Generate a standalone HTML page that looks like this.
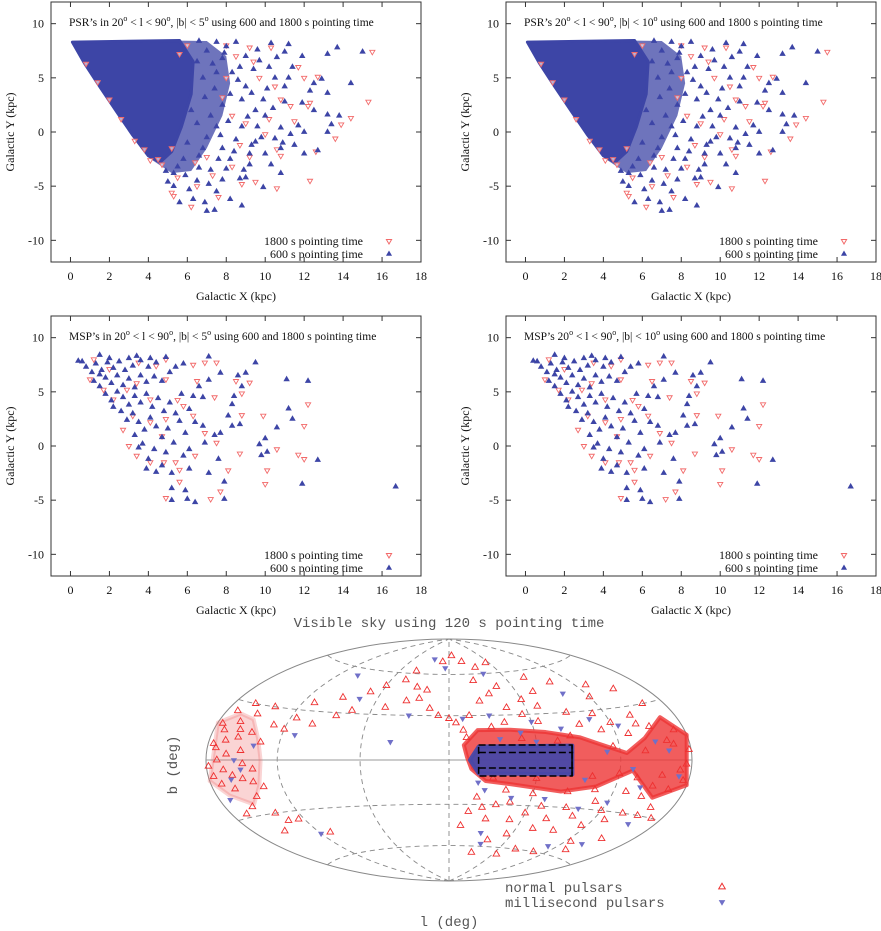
<!DOCTYPE html>
<html><head><meta charset="utf-8"><style>
html,body{margin:0;padding:0;background:#fff}
svg{display:block}
.ser{font-family:"Liberation Serif",serif;fill:#111}
.mono{font-family:"Liberation Mono",monospace;fill:#555}
</style></head><body>
<svg id="fig" width="881" height="931" viewBox="0 0 881 931" xmlns="http://www.w3.org/2000/svg"></svg>
<script>
// ---------- Galactic XY panel data (kpc) ----------
const xTicks=[0,2,4,6,8,10,12,14,16,18];
const yTicks=[-10,-5,0,5,10];
const psrCore=[[0.1,8.3],[5.6,8.45],[6.3,6.5],[6.2,3.5],[5.7,0.5],[5.2,-1.8],[4.6,-2.8],[4.0,-2.2],[3.2,-0.3],[2.4,1.8],[1.5,4.2],[0.7,6.4]];
const psrHalo=[[5.0,8.45],[7.0,8.4],[8.0,7.0],[8.2,4.5],[7.8,1.5],[7.0,-1.5],[6.2,-3.6],[5.2,-3.8],[4.2,-2.6],[5.5,0]];
const psr600=[[8.5,8.3],[10.3,8.2],[11.2,8.1],[13.7,7.8],[15.0,7.4],[13.2,7.2],[11.9,7.0],[11.0,7.4],[10.6,6.9],[9.6,7.6],[9.0,7.0],[8.0,7.9],[7.8,6.8],[8.7,6.0],[9.4,5.8],[10.2,6.0],[11.4,6.0],[11.2,5.0],[11.0,4.2],[10.5,5.0],[12.3,3.8],[12.5,4.5],[12.9,4.9],[14.4,4.5],[13.2,3.6],[11.9,2.7],[12.5,2.0],[13.2,1.6],[13.8,1.5],[13.4,0.7],[13.2,0],[11.7,0.6],[12.0,0.0],[11.3,-0.2],[10.9,-1.0],[10.8,-1.5],[12.0,-2.0],[12.7,-1.7],[11.5,-1.2],[9.5,2.0],[10.0,1.5],[9.8,-0.5],[9.3,-1.2],[8.8,0.5],[8.5,-0.7],[7.8,-1.5],[8.2,-2.5],[9.2,-3.0],[10.3,-3.0],[10.0,-2.0],[9.0,-4.2],[8.7,-4.3],[9.9,-5.1],[10.8,-3.8],[8.8,-6.8],[8.2,-6.2],[7.0,-7.3],[7.4,-7.2],[6.9,-6.5],[6.3,-6.2],[5.6,-6.5],[5.3,-5.0],[5.0,-4.6],[5.9,-4.0],[6.6,-3.3],[7.2,-3.5],[7.6,-2.5],[6.8,-1.5],[7.0,-0.5],[7.5,0.5],[7.2,1.5],[7.8,2.5],[8.2,3.5],[8.8,3.0],[9.0,4.2],[7.4,4.0],[6.8,5.0],[7.5,5.5],[6.5,6.5],[7.0,7.5],[6.6,8.4],[7.5,8.3],[6.2,2.0],[6.5,0.8],[6.0,-1.0],[5.8,-2.5],[6.5,-4.5],[7.8,-4.4],[5.5,-3.2],[4.9,-3.6],[10.1,4.0],[9.9,3.0],[10.4,2.2],[11.0,2.8],[9.2,-2.0],[8.0,-3.4],[7.5,-5.5],[6.9,3.2],[7.3,6.3],[8.1,1.0],[6.6,-2.2],[7.9,7.3],[8.6,4.8],[5.3,-3.8],[6.1,-5.3],[7.1,-4.8],[9.6,0.5],[8.4,-1.8],[7.7,-0.3],[9.3,3.6],[9.7,6.6],[10.8,0.4],[8.9,-3.5],[9.5,-0.9],[10.5,-0.6],[8.3,5.5],[9.1,1.4]];
const psr1800=[[15.5,7.4],[15.3,2.8],[14.4,1.3],[13.9,0.7],[13.6,-0.6],[12.3,-4.5],[12.3,2.7],[12.0,5.0],[11.7,6.0],[10.3,7.8],[8.0,8.0],[9.4,6.5],[9.7,5.0],[10.5,4.2],[10.8,3.0],[10.2,1.2],[10.0,-0.2],[10.6,-1.6],[10.6,-5.2],[9.5,-4.6],[8.8,-4.8],[7.6,-6.0],[6.2,-6.9],[5.3,-5.9],[5.2,-5.6],[5.5,-4.2],[6.5,-5.0],[7.3,-4.0],[8.3,-3.2],[9.2,-2.3],[8.7,-1.2],[9.0,0.8],[8.3,1.5],[8.0,5.0],[8.5,7.0],[9.2,7.8],[11.3,2.4],[11.5,1.0],[12.7,5.1],[12.2,2.4],[12.6,-1.8],[10.8,-2.2],[6.4,-2.8],[4.7,-3.0],[4.5,-2.5],[7.8,3.2],[7.0,-2.3],[5.2,-1.5],[5.6,7.2],[6.0,8.0],[3.3,-0.8],[2.6,1.2],[4.1,-2.6],[1.4,4.6],[0.8,6.3],[3.8,-1.6],[2.0,3.0]];
const msp600=[[0.4,7.85],[1.5,8.4],[3.0,8.1],[4.9,8.2],[7.1,8.25],[9.5,7.7],[11.1,6.15],[12.2,6.0],[11.2,3.45],[11.4,2.5],[10.6,1.7],[10.0,0.7],[9.7,0.15],[10.1,-0.55],[9.8,-0.86],[12.7,-1.3],[11.9,-3.5],[16.7,-3.75],[7.9,-3.3],[7.9,-4.9],[6.4,-5.2],[6.0,-4.9],[5.2,-5.0],[5.2,-3.9],[5.9,-4.1],[6.1,-2.1],[7.1,-2.5],[4.4,-2.4],[3.9,-2.1],[7.6,-1.2],[8.3,1.85],[8.7,2.0],[8.1,2.8],[8.3,3.85],[8.4,4.6],[8.8,5.5],[8.6,6.5],[9.0,6.75],[7.7,6.75],[7.1,6.1],[6.6,5.5],[6.3,4.6],[6.8,4.5],[6.1,3.4],[6.8,1.85],[6.4,2.2],[7.4,1.0],[7.7,1.2],[6.9,0.3],[6.1,-0.3],[5.8,-0.9],[4.9,-0.6],[4.7,-1.8],[5.2,-2.5],[4.0,-1.2],[3.5,-0.15],[0.8,7.3],[1.1,6.8],[1.3,7.6],[1.6,7.0],[1.9,7.7],[2.2,7.2],[2.5,7.8],[2.8,7.0],[3.2,7.4],[3.6,7.9],[4.0,7.3],[4.4,7.7],[1.2,6.0],[1.5,5.5],[1.8,6.3],[2.1,5.8],[2.4,6.5],[2.7,5.6],[3.0,6.2],[3.3,5.4],[3.6,6.5],[3.9,5.9],[4.3,6.4],[4.7,6.0],[5.1,6.8],[5.4,7.3],[5.8,7.6],[1.8,4.8],[2.1,4.2],[2.4,5.0],[2.7,4.5],[3.0,3.8],[3.3,4.6],[3.6,4.0],[3.9,4.8],[4.2,3.6],[4.5,4.4],[4.8,3.2],[5.1,4.0],[5.4,3.0],[5.7,4.8],[2.6,3.2],[2.9,2.4],[3.2,3.0],[3.5,2.2],[3.8,1.5],[4.1,2.6],[4.4,1.8],[4.7,0.8],[5.0,1.6],[5.3,0.3],[5.6,2.3],[5.9,1.2],[3.3,1.0],[3.7,0.2],[4.3,-0.3],[2.2,3.6],[1.5,6.6],[0.6,7.8],[2.0,8.1],[3.4,8.3],[4.1,8.1]];
const msp1800=[[4.9,-4.8],[5.6,-3.3],[7.2,-4.9],[7.7,-4.2],[8.1,-2.25],[8.7,-0.7],[10.0,-3.5],[10.1,-2.25],[10.6,-0.3],[11.7,-0.8],[12.0,-1.2],[12.0,1.85],[12.2,3.85],[9.9,2.8],[8.8,2.85],[9.2,5.85],[8.8,4.85],[7.4,4.5],[6.5,6.0],[6.9,7.7],[7.5,7.7],[4.4,7.4],[4.9,6.15],[5.5,4.25],[4.1,4.3],[3.2,2.8],[2.7,1.5],[3.0,0.0],[3.4,-0.9],[4.1,-1.5],[4.8,-1.5],[5.4,-1.5],[5.6,-2.2],[6.4,-0.9],[7.5,0.3],[6.9,1.2],[6.3,2.8],[5.8,3.7],[2.2,4.3],[1.7,5.2],[1.0,6.15],[2.0,7.1],[3.5,7.7],[1.2,8.0],[4.9,8.0],[6.3,7.5],[8.5,6.0],[2.9,5.2],[3.4,5.8],[4.1,2.2],[4.9,2.5],[4.7,0.9]];

// ---------- Sky map data (galactic l, b in degrees) ----------
const lbTicksMeridian=[-120,-60,0,60,120];
const lbTicksParallel=[-60,-30,30,60];
const denseRedLB=[[10,10],[20,20],[43,20],[68,18],[92,14],[104,10],[125,4],[142,12],[165,22],[180,12],[180,-12],[155,-20],[130,-6],[105,-16],[80,-20],[43,-16],[25,-14],[15,-6],[12,2]];
const denseBlueLB=[[20,9],[85,9],[85,-9],[20,-9],[14,0]];
const leftRedLB=[[-180,18],[-165,24],[-150,22],[-138,12],[-133,0],[-138,-14],[-152,-24],[-168,-18],[-180,-10]];
const normalLB=[[-40,62],[-10,70],[5,75],[20,70],[35,65],[55,68],[80,55],[100,50],[130,45],[160,30],[-60,50],[-70,45],[-90,40],[-110,35],[-140,30],[-150,25],[-160,20],[-170,15],[-175,8],[-165,10],[-155,12],[-145,15],[-130,20],[-120,18],[-100,22],[-85,28],[-75,32],[-45,55],[-30,50],[-25,42],[-15,35],[-8,30],[0,28],[5,25],[10,20],[12,15],[15,30],[25,40],[35,45],[45,35],[55,30],[60,40],[70,35],[90,30],[110,28],[140,25],[150,40],[120,38],[75,45],[45,50],[25,55],[-20,48],[-35,40],[-50,35],[-115,25],[-135,10],[-150,5],[-170,0],[-178,-3],[-165,-5],[-158,-8],[-150,-10],[-140,-5],[-135,-15],[-145,-20],[-160,-15],[-170,-12],[-155,-25],[-140,-30],[-135,-35],[-125,-35],[-150,-40],[-110,-45],[20,-25],[25,-32],[30,-40],[35,-30],[45,-28],[50,-40],[55,-50],[60,-35],[70,-30],[75,-45],[80,-38],[90,-30],[95,-45],[100,-35],[110,-25],[115,-40],[120,-30],[125,-50],[130,-35],[140,-30],[145,-20],[155,-30],[160,-25],[165,-15],[170,-30],[175,-10],[150,-45],[135,-55],[105,-60],[80,-60],[65,-65],[40,-55],[30,-65],[10,-45],[15,-35],[40,-20],[60,-22],[85,-20],[105,-18],[130,-18],[150,-14],[170,-5],[178,5],[170,15],[160,10],[150,18],[140,20],[130,15],[120,22],[110,18],[95,22],[85,15],[65,25],[40,25],[30,22],[-170,25],[-160,30],[-175,-8],[-162,3],[-148,-2],[-172,6],[-156,16],[-142,-12],[-166,-28],[-175,18],[60,-12],[75,12],[100,-10],[115,8],[135,-10],[155,-8],[165,8],[175,-2],[50,14],[30,-12],[140,5],[120,-8]];
const mspLB=[[-25,72],[-5,65],[40,60],[100,42],[-100,55],[-75,40],[-150,-5],[-160,-10],[-140,8],[-120,-45],[-110,15],[-30,30],[10,28],[30,30],[50,18],[60,25],[80,20],[105,25],[125,20],[150,10],[160,5],[170,-8],[140,-15],[120,-25],[100,-30],[70,-25],[45,-25],[25,-20],[30,-50],[35,-58],[110,-55],[140,-50],[155,-35],[20,-15],[-40,12],[-170,-20],[-155,0],[130,-5],[110,5],[95,-12],[60,12],[35,14]];

const NS='http://www.w3.org/2000/svg';
const svg=document.getElementById('fig');
function mk(tag,attrs,parent){const e=document.createElementNS(NS,tag);for(const k in attrs)e.setAttribute(k,attrs[k]);(parent||svg).appendChild(e);return e;}
function tri(cx,cy,s,up){const h=up?-1:1;return `M${cx},${cy+h*s} L${cx+0.87*s},${cy-h*0.5*s} L${cx-0.87*s},${cy-h*0.5*s} Z`;}

function xyPanel(x0,y0,name,titleA,d600,d1800,core,halo){
  const W=370,H=260;
  const sx=x=>x0+(x+1)/19*W, sy=y=>y0+(12-y)/24*H;
  const g=mk('g',{});
  
  
  if(halo){
    const p=mk('path',{d:'M'+halo.map(c=>sx(c[0])+','+sy(c[1])).join(' L')+' Z',fill:'#3d45a6','fill-opacity':0.75,stroke:'none'},g);
    
    
  }
  if(core){
    const p=mk('path',{d:'M'+core.map(c=>sx(c[0])+','+sy(c[1])).join(' L')+' Z',fill:'#3d45a6',stroke:'#3d45a6','stroke-width':3,'stroke-linejoin':'round'},g);
    
    
  }
  d1800.forEach(d=>{
    const p=mk('path',{d:tri(sx(d[0]),sy(d[1]),3,false),fill:'#fff','fill-opacity':0.6,stroke:'#f26a6a','stroke-width':0.9},g);
    
    
  });
  d600.forEach(d=>{
    const p=mk('path',{d:tri(sx(d[0]),sy(d[1]),2.5,true),fill:'#3d45a6',stroke:'#3d45a6','stroke-width':1.2},g);
    
    
  });
  const fr=mk('rect',{x:x0,y:y0,width:W,height:H,fill:'none',stroke:'#333','stroke-width':1},g);
  
  
  xTicks.forEach(t=>{
    const x=sx(t);
    mk('line',{x1:x,x2:x,y1:y0+H,y2:y0+H-5,stroke:'#333'},g);
    mk('line',{x1:x,x2:x,y1:y0,y2:y0+5,stroke:'#333'},g);
    const tx=mk('text',{x:x,y:y0+H+18,'text-anchor':'middle','font-size':12,class:'ser'},g);
    tx.textContent=t;
    
    
  });
  yTicks.forEach(t=>{
    const y=sy(t);
    mk('line',{x1:x0,x2:x0+5,y1:y,y2:y,stroke:'#333'},g);
    mk('line',{x1:x0+W,x2:x0+W-5,y1:y,y2:y,stroke:'#333'},g);
    const tx=mk('text',{x:x0-7,y:y+4,'text-anchor':'end','font-size':12,class:'ser'},g);
    tx.textContent=t;
    
    
  });
  const xl=mk('text',{x:x0+185,y:y0+H+38,'text-anchor':'middle','font-size':12,class:'ser'},g);
  xl.textContent='Galactic X (kpc)';
  
  
  const yl=mk('text',{x:0,y:0,'text-anchor':'middle','font-size':12,class:'ser',transform:`translate(${x0-37},${y0+130}) rotate(-90)`},g);
  yl.textContent='Galactic Y (kpc)';
  
  
  const tt=mk('text',{x:x0+18,y:y0+24,'font-size':11.5,class:'ser'},g);
  
  
  tt.innerHTML=titleA;
  const l1=mk('text',{x:x0+312,y:y0+243,'text-anchor':'end','font-size':12,class:'ser'},g);
  l1.textContent='1800 s pointing time';
  
  
  mk('path',{d:tri(x0+338,y0+239,3,false),fill:'none',stroke:'#f26a6a'},g);
  const l2=mk('text',{x:x0+312,y:y0+256,'text-anchor':'end','font-size':12,class:'ser'},g);
  l2.textContent='600 s pointing time';
  
  
  mk('path',{d:tri(x0+338,y0+252,2.5,true),fill:'#3d45a6',stroke:'#3d45a6'},g);
}
const sup='<tspan dy="-5" font-size="8">o</tspan><tspan dy="5">';
function title(pre,bmax){return `${pre} 20${sup} &lt; l &lt; 90</tspan>${sup}, |b| &lt; ${bmax}</tspan>${sup} using 600 and 1800 s pointing time</tspan>`;}
xyPanel(51,2,'psr-panel-b5',title("PSR\u2019s in",5),psr600,psr1800,psrCore,psrHalo);
xyPanel(506,2,'psr-panel-b10',title("PSR\u2019s",10),psr600,psr1800,psrCore,psrHalo);
xyPanel(51,316,'msp-panel-b5',title("MSP\u2019s in",5),msp600,msp1800,null,null);
xyPanel(506,316,'msp-panel-b10',title("MSP\u2019s",10),msp600,msp1800,null,null);

// ---------- Hammer-Aitoff sky map ----------
const CX=449,CY=760,RX=243,RY=121;
function proj(l,b){
  const lam=l*Math.PI/180, phi=b*Math.PI/180;
  const d=Math.sqrt(1+Math.cos(phi)*Math.cos(lam/2));
  const x=Math.cos(phi)*Math.sin(lam/2)/d, y=Math.sin(phi)/d;
  return [CX+RX*x, CY-RY*y];
}
const sky=mk('g',{});


const st=mk('text',{x:CX,y:627,'text-anchor':'middle','font-size':14,class:'mono'},sky);
st.textContent='Visible sky using 120 s pointing time';


const el=mk('ellipse',{cx:CX,cy:CY,rx:RX,ry:RY,fill:'none',stroke:'#888','stroke-width':1},sky);


lbTicksMeridian.forEach(l=>{
  const pts=[];for(let b=-90;b<=90;b+=3)pts.push(proj(l,b));
  const p=mk('path',{d:'M'+pts.map(q=>q.join(',')).join(' L'),fill:'none',stroke:'#888','stroke-dasharray':'5,4','stroke-width':0.9},sky);
  
  
});
lbTicksParallel.forEach(b=>{
  const pts=[];for(let l=-180;l<=180;l+=5)pts.push(proj(l,b));
  const p=mk('path',{d:'M'+pts.map(q=>q.join(',')).join(' L'),fill:'none',stroke:'#888','stroke-dasharray':'5,4','stroke-width':0.9},sky);
  
  
});
{const a=proj(-180,0),c=proj(180,0);
 const p=mk('line',{x1:a[0],y1:a[1],x2:c[0],y2:c[1],stroke:'#999','stroke-width':1},sky);
 
 }
function poly(arr,fill,op,name){
  const p=mk('path',{d:'M'+arr.map(c=>proj(c[0],c[1]).join(',')).join(' L')+' Z',fill:fill,'fill-opacity':op,stroke:fill,'stroke-opacity':op,'stroke-width':4,'stroke-linejoin':'round'},sky);
  
  
}
poly(denseRedLB,'#ee3535',0.8,'dense-normal-pulsars');
poly(leftRedLB,'#f07070',0.3,'anticentre-normal-pulsars');
normalLB.forEach(d=>{
  const q=proj(d[0],d[1]);
  const p=mk('path',{d:tri(q[0],q[1],3.8,true),fill:'none',stroke:'#ee3030','stroke-width':0.9},sky);
  
  
});
poly(denseBlueLB,'#4848a8',0.95,'dense-surveyed-region');
mspLB.forEach(d=>{
  const q=proj(d[0],d[1]);
  const p=mk('path',{d:tri(q[0],q[1],2.8,false),fill:'#7070c8',stroke:'#7070c8','stroke-width':0.8},sky);
  
  
});
{const a=proj(20,10),c=proj(85,-10);
 const r=mk('rect',{x:a[0],y:a[1],width:c[0]-a[0],height:c[1]-a[1],fill:'none',stroke:'#000','stroke-width':1.5,'stroke-dasharray':'7,3'},sky);
 
 
 const a5=proj(20,5),c5=proj(85,-5);
 [a5[1],c5[1]].forEach(y=>{
   const ln=mk('line',{x1:a5[0],x2:c5[0],y1:y,y2:y,stroke:'#000','stroke-width':1.5,'stroke-dasharray':'7,3'},sky);
   
   
 });
 const e1=mk('line',{x1:c[0],x2:c[0],y1:a[1],y2:c[1],stroke:'#000','stroke-width':1.5},sky);
 
 }
const bl=mk('text',{x:0,y:0,'text-anchor':'middle','font-size':14,class:'mono',transform:'translate(177,765) rotate(-90)'},sky);
bl.textContent='b (deg)';


const ll=mk('text',{x:CX,y:926,'text-anchor':'middle','font-size':14,class:'mono'},sky);
ll.textContent='l (deg)';


const n1=mk('text',{x:505,y:892,'font-size':14,class:'mono'},sky);
n1.textContent='normal pulsars';


mk('path',{d:tri(722,887,3.8,true),fill:'none',stroke:'#ee3030'},sky);
const n2=mk('text',{x:505,y:907,'font-size':14,class:'mono'},sky);
n2.textContent='millisecond pulsars';


mk('path',{d:tri(722,902,2.8,false),fill:'#7070c8',stroke:'#7070c8'},sky);
</script>
</body></html>
